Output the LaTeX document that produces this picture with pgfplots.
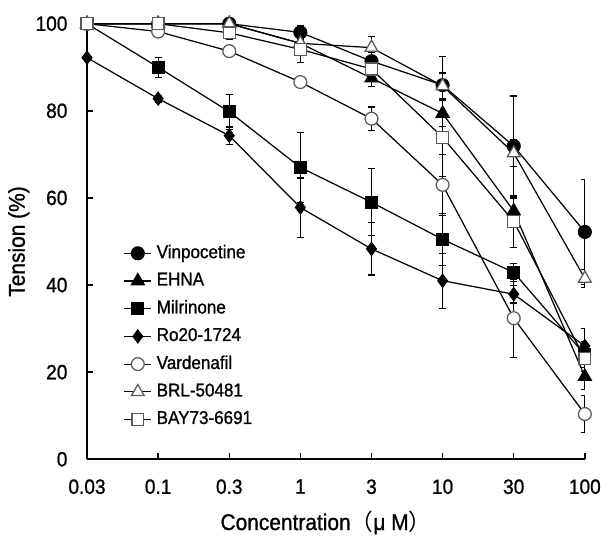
\documentclass[border=0pt]{standalone}
\usepackage{fontspec}
\setmainfont{Liberation Sans}[FakeStretch=0.92, FakeBold=1]
\newfontfamily\cjk{Noto Sans CJK JP}
\usepackage{pgfplots}
\pgfplotsset{compat=1.18}

% columns: category index, tension (%), error
\pgfplotstableread{
x y e
0 100 0
1 100 0
2 100 0
3 98 1.5
4 91.4 2
5 85.9 6.6
6 71.9 11.5
7 52.2 12
}\vinpo
\pgfplotstableread{
x y e
0 100 0
1 100 0
2 100 0
3 95.5 1.5
4 87.5 2
5 79.4 3
6 57 3
7 19 3
}\ehna
\pgfplotstableread{
x y e
0 100 0
1 90 2.3
2 79.8 4
3 67 8
4 59 7.7
5 50.5 6
6 42.9 2
7 24 3
}\milri
\pgfplotstableread{
x y e
0 92.2 0.5
1 82.8 0.8
2 74.3 2
3 57.8 6.8
4 48.3 6
5 41 6.3
6 37.9 2
7 26 4
}\roxx
\pgfplotstableread{
x y e
0 100 0
1 98.2 0.5
2 93.7 0.5
3 86.6 0.5
4 78.2 2.7
5 63 7
6 32.4 9
7 10.4 4.3
}\varde
\pgfplotstableread{
x y e
0 100 0
1 100 0
2 100 0
3 95.5 1.5
4 94.5 2.5
5 85.7 3
6 70.3 3
7 41.5 2
}\brl
\pgfplotstableread{
x y e
0 100 0
1 100 0
2 97.9 1.5
3 94.1 3
4 89.6 2
5 73.9 9
6 54.6 6
7 23.1 3
}\bay

\begin{document}
\begin{tikzpicture}
% page area of the reference, relative to the axis box
\path (-35.2pt,-30.4pt) rectangle (208.4pt,186pt);
\begin{axis}[
  at={(0,0)}, anchor=south west,
  scale only axis,
  width=201.6pt,
  height=176.4pt,
  xmin=0, xmax=7,
  ymin=0, ymax=100,
  axis x line=bottom,
  axis y line=left,
  axis line style={-, line width=0.8pt},
  xtick={0,...,7},
  xticklabels={0.03,0.1,0.3,1,3,10,30,100},
  ytick={0,20,40,60,80,100},
  tick align=inside,
  major tick length=2.4pt,
  tick style={black, line width=0.6pt},
  /pgf/number format/assume math mode=true,
  tick label style={font=\fontsize{8.4}{10}\selectfont},
  xticklabel style={yshift=-4.6pt},
  yticklabel style={xshift=-4.4pt},
  xlabel={Concentration{\cjk （}μ M{\cjk ）}},
  ylabel={Tension (\%)},
  label style={font=\fontsize{9.2}{11}\selectfont},
  xlabel style={at={(axis description cs:0.48,-0.145)}, anchor=center},
  ylabel style={at={(axis description cs:-0.137,0.5)}, anchor=center},
  legend style={draw=none, fill=none, font=\fontsize{7.5}{8.5}\selectfont,
    at={(0.073,0.505)}, anchor=north west, row sep=0.4pt,
    inner sep=0pt},
  legend cell align=left,
  legend image code/.code={%
    \draw[mark repeat=2,mark phase=2] plot coordinates {(0cm,0cm)(0.19cm,0cm)(0.38cm,0cm)};},
  every axis plot/.append style={black, line width=0.5pt},
  errs/.style={draw=none, mark=none, forget plot,
    error bars/y dir=both, error bars/y explicit,
    error bars/error bar style={draw=black, line width=0.5pt},
    error bars/error mark options={rotate=90, mark size=1.4pt, draw=black, line width=0.5pt}},
  open/.style={mark options={fill=white, draw=black!65}},
  full/.style={mark options={fill=black, draw=black}},
]
% error bars first, so the marks lie on top of them
\addplot[errs] table[x=x, y=y, y error=e] {\vinpo};
\addplot[errs] table[x=x, y=y, y error=e] {\ehna};
\addplot[errs] table[x=x, y=y, y error=e] {\milri};
\addplot[errs] table[x=x, y=y, y error=e] {\roxx};
\addplot[errs] table[x=x, y=y, y error=e] {\varde};
\addplot[errs] table[x=x, y=y, y error=e] {\brl};
\addplot[errs] table[x=x, y=y, y error=e] {\bay};

\addplot[full, mark=*, mark size=2.6pt] table[x=x, y=y] {\vinpo};
\addlegendentry{Vinpocetine}
\addplot[full, mark=triangle*, mark size=3pt] table[x=x, y=y] {\ehna};
\addlegendentry{EHNA}
\addplot[full, mark=square*, mark size=2.4pt] table[x=x, y=y] {\milri};
\addlegendentry{Milrinone}
\addplot[full, mark=diamond*, mark size=2.6pt] table[x=x, y=y] {\roxx};
\addlegendentry{Ro20-1724}
\addplot[open, mark=*, mark size=2.6pt] table[x=x, y=y] {\varde};
\addlegendentry{Vardenafil}
\addplot[open, mark=triangle*, mark size=3pt] table[x=x, y=y] {\brl};
\addlegendentry{BRL-50481}
\addplot[open, mark=square*, mark size=2.4pt] table[x=x, y=y] {\bay};
\addlegendentry{BAY73-6691}
\end{axis}
\end{tikzpicture}
\end{document}
